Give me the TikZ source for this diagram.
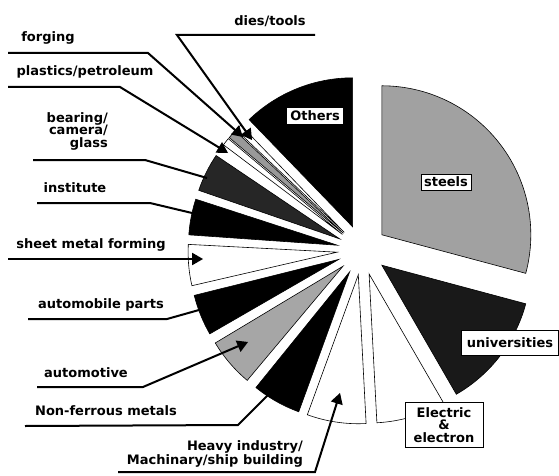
\documentclass[tikz,border=0pt]{standalone}
\usepackage{fontspec}
\setmainfont{DejaVu Sans}
\usetikzlibrary{arrows}

\begin{document}
\begin{tikzpicture}[x=1pt,y=1pt,>=triangle 60,
    slice/.style={draw=black,line width=0.6pt},
    lbl/.style={font=\bfseries\fontsize{13}{12.5}\selectfont,inner sep=0pt},
    box/.style={lbl,fill=white,inner sep=3pt},
    lead/.style={line width=2pt}]
    \useasboundingbox (0,0) rectangle (559,475);
    % exploded pie
    \begin{scope}[shift={(362,225)}]
    \draw[slice,fill=black!37,shift={(37.5:25)}] (0,0) -- (-15:149) arc (-15:90:149) -- cycle;
    \draw[slice,fill=black,shift={(112:25)}] (0,0) -- (90:149) arc (90:134:149) -- cycle;
    \draw[slice,fill=white,shift={(135.25:25)}] (0,0) -- (134:149) arc (134:136.5:149) -- cycle;
    \draw[slice,fill=black!40,shift={(138.25:25)}] (0,0) -- (136.5:149) arc (136.5:140:149) -- cycle;
    \draw[slice,fill=white,shift={(141.5:25)}] (0,0) -- (140:149) arc (140:143:149) -- cycle;
    \draw[slice,fill=black!85,shift={(153.5:25)}] (0,0) -- (146:149) arc (146:161:149) -- cycle;
    \draw[slice,fill=black,shift={(169:25)}] (0,0) -- (162:149) arc (162:176:149) -- cycle;
    \draw[slice,fill=white,shift={(185:25)}] (0,0) -- (177:149) arc (177:193:149) -- cycle;
    \draw[slice,fill=black,shift={(202:25)}] (0,0) -- (194:149) arc (194:210:149) -- cycle;
    \draw[slice,fill=black!35,shift={(220.5:25)}] (0,0) -- (211:149) arc (211:230:149) -- cycle;
    \draw[slice,fill=black,shift={(240.5:25)}] (0,0) -- (231:149) arc (231:250:149) -- cycle;
    \draw[slice,fill=white,shift={(261.5:25)}] (0,0) -- (250:149) arc (250:273:149) -- cycle;
    \draw[slice,fill=white,shift={(286.5:25)}] (0,0) -- (273:149) arc (273:300:149) -- cycle;
    \draw[slice,fill=black!90,shift={(322.5:25)}] (0,0) -- (300:149) arc (300:345:149) -- cycle;
    \end{scope}

    % labels in the slices
    \node[box] (others) at (315,359) {Others};
    \node[box,draw,line width=0.6pt] (steels) at (446,293) {steels};
    \node[box,draw,line width=0.4pt,minimum width=97pt,minimum height=25pt] (univ) at (510,132) {universities};
    \node[box,draw,line width=0.4pt,align=center,minimum width=78pt,minimum height=45pt] (electric) at (444,50) {Electric\\\&\\electron};

    % labels outside
    \node[lbl] (dies) at (270,454) {dies/tools};
    \node[lbl] (forging) at (48,437) {forging};
    \node[lbl] (plastics) at (85,403) {plastics/petroleum};
    \node[lbl,align=right,anchor=east] (bearing) at (108,344) {bearing/\\camera/\\glass};
    \node[lbl] (institute) at (75,287) {institute};
    \node[lbl] (sheet) at (91,230) {sheet metal forming};
    \node[lbl] (parts) at (101,170) {automobile parts};
    \node[lbl] (automotive) at (86,102) {automotive};
    \node[lbl] (nonferrous) at (106,64) {Non-ferrous metals};
    \node[lbl,align=right,anchor=east] (heavy) at (303,21) {Heavy industry/\\Machinary/ship building};

    % leader lines
    \coordinate (dies-l) at (315,440);
    \coordinate (dies-t) at (252,335);
    \coordinate (forging-l) at (8,422);
    \coordinate (forging-t) at (243,338);
    \coordinate (plastics-l) at (8,388);
    \coordinate (plastics-t) at (228,322);
    \coordinate (bearing-l) at (33,315);
    \coordinate (bearing-t) at (207,297);
    \coordinate (institute-l) at (37,272);
    \coordinate (institute-t) at (192,262);
    \coordinate (sheet-l) at (8,216);
    \coordinate (sheet-t) at (203,216);
    \coordinate (parts-l) at (28,156);
    \coordinate (parts-t) at (199,165);
    \coordinate (automotive-l) at (37,88);
    \coordinate (automotive-t) at (248,133);
    \coordinate (nonferrous-l) at (25,49);
    \coordinate (nonferrous-t) at (272,84);
    \coordinate (heavy-l) at (118,3);
    \coordinate (heavy-t) at (340,82);
    \draw[lead,->] (dies-l) -- (177,440) -- (dies-t);
    \draw[lead,->] (forging-l) -- (148,422) -- (forging-t);
    \draw[lead,->] (plastics-l) -- (120,388) -- (plastics-t);
    \draw[lead] (bearing-l) -- (145,315) -- (bearing-t);
    \draw[lead] (institute-l) -- (150,272) -- (institute-t);
    \draw[lead,->] (sheet-l) -- (sheet-t);
    \draw[lead] (parts-l) -- (167,156) -- (parts-t);
    \draw[lead,->] (automotive-l) -- (143,88) -- (automotive-t);
    \draw[lead] (nonferrous-l) -- (238,50) -- (nonferrous-t);
    \draw[lead,->] (heavy-l) -- (315,3) -- (heavy-t);
\end{tikzpicture}
\end{document}
